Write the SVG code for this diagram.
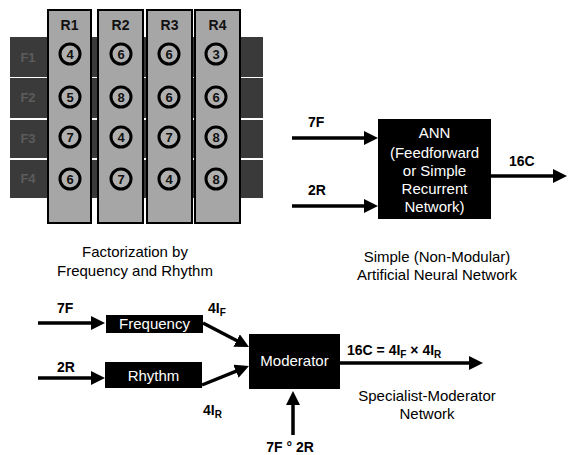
<svg xmlns="http://www.w3.org/2000/svg" width="568" height="455" viewBox="0 0 568 455">
<style>
.row{fill:#3a3a3a}
.col{fill:#a6a6a6;stroke:#000;stroke-width:2}
.cir{fill:#b0b0b0;stroke:#000;stroke-width:3}
.num{font-family:"Liberation Sans",Arial,sans-serif;font-weight:bold;font-size:13px;fill:#111;text-anchor:middle}
.rl{font-family:"Liberation Sans",Arial,sans-serif;font-weight:bold;font-size:14px;fill:#111;text-anchor:middle}
.fl{font-family:"Liberation Sans",Arial,sans-serif;font-weight:bold;font-size:13px;fill:#5c5c5c;text-anchor:middle}
.box{fill:#000}
.bt{font-family:"Liberation Sans",Arial,sans-serif;font-size:15px;fill:#fff;text-anchor:middle}
.lb{font-family:"Liberation Sans",Arial,sans-serif;font-weight:bold;font-size:14px;fill:#000}
.cap{font-family:"Liberation Sans",Arial,sans-serif;font-size:15px;fill:#000;text-anchor:middle}
.arr{stroke:#000;stroke-width:3.5;fill:none;marker-end:url(#ah)}
</style>
<defs>
<marker id="ah" markerUnits="userSpaceOnUse" markerWidth="14" markerHeight="14" refX="1" refY="7" orient="auto">
<path d="M0,0 L14,7 L0,14 z" fill="#000"/>
</marker>
</defs>

<g id="factorization">
<rect class="row" x="10" y="37" width="253" height="40"/>
<rect class="row" x="10" y="78" width="253" height="40"/>
<rect class="row" x="10" y="120" width="253" height="38"/>
<rect class="row" x="10" y="160" width="253" height="38"/>
<text class="fl" x="28" y="62">F1</text>
<text class="fl" x="28" y="102">F2</text>
<text class="fl" x="28" y="143">F3</text>
<text class="fl" x="28" y="183">F4</text>
<g id="col-R1">
<rect class="col" x="48" y="10" width="43" height="213"/>
<text class="rl" x="69.5" y="30">R1</text>
<circle class="cir" cx="70" cy="54" r="10"/><text class="num" x="70" y="58.5">4</text>
<circle class="cir" cx="70" cy="97" r="10"/><text class="num" x="70" y="101.5">5</text>
<circle class="cir" cx="70" cy="137" r="10"/><text class="num" x="70" y="141.5">7</text>
<circle class="cir" cx="70" cy="179" r="10"/><text class="num" x="70" y="183.5">6</text>
</g>
<g id="col-R2">
<rect class="col" x="98" y="10" width="45" height="213"/>
<text class="rl" x="120.5" y="30">R2</text>
<circle class="cir" cx="121" cy="54" r="10"/><text class="num" x="121" y="58.5">6</text>
<circle class="cir" cx="121" cy="97" r="10"/><text class="num" x="121" y="101.5">8</text>
<circle class="cir" cx="121" cy="137" r="10"/><text class="num" x="121" y="141.5">4</text>
<circle class="cir" cx="121" cy="179" r="10"/><text class="num" x="121" y="183.5">7</text>
</g>
<g id="col-R3">
<rect class="col" x="147" y="10" width="45" height="213"/>
<text class="rl" x="169.5" y="30">R3</text>
<circle class="cir" cx="169" cy="54" r="10"/><text class="num" x="169" y="58.5">6</text>
<circle class="cir" cx="169" cy="97" r="10"/><text class="num" x="169" y="101.5">6</text>
<circle class="cir" cx="169" cy="137" r="10"/><text class="num" x="169" y="141.5">7</text>
<circle class="cir" cx="169" cy="179" r="10"/><text class="num" x="169" y="183.5">4</text>
</g>
<g id="col-R4">
<rect class="col" x="195" y="10" width="45" height="213"/>
<text class="rl" x="217.5" y="30">R4</text>
<circle class="cir" cx="216" cy="54" r="10"/><text class="num" x="216" y="58.5">3</text>
<circle class="cir" cx="216" cy="97" r="10"/><text class="num" x="216" y="101.5">6</text>
<circle class="cir" cx="216" cy="137" r="10"/><text class="num" x="216" y="141.5">8</text>
<circle class="cir" cx="216" cy="179" r="10"/><text class="num" x="216" y="183.5">8</text>
</g>
<text class="cap" x="135" y="257">Factorization by</text>
<text class="cap" x="135" y="276">Frequency and Rhythm</text>
</g>

<g id="ann">
<rect class="box" x="378" y="119" width="113" height="100"/>
<text class="bt" x="434.5" y="138">ANN</text>
<text class="bt" x="434.5" y="158">(Feedforward</text>
<text class="bt" x="434.5" y="176">or Simple</text>
<text class="bt" x="434.5" y="194">Recurrent</text>
<text class="bt" x="434.5" y="212">Network)</text>
<text class="cap" x="437" y="262" font-size="16">Simple (Non-Modular)</text>
<text class="cap" x="437" y="280" font-size="16">Artificial Neural Network</text>
</g>

<g id="frequency">
<rect class="box" x="106" y="315" width="97" height="18"/>
<text class="bt" x="154.5" y="329">Frequency</text>
</g>
<g id="rhythm">
<rect class="box" x="105" y="362" width="97" height="26"/>
<text class="bt" x="153.5" y="381">Rhythm</text>
</g>
<g id="moderator">
<rect class="box" x="249" y="334" width="91" height="55"/>
<text class="bt" x="294.5" y="366">Moderator</text>
</g>

<g id="connectors">
<line class="arr" x1="292" y1="138" x2="365" y2="138"/>
<line class="arr" x1="292" y1="206" x2="365" y2="206"/>
<line class="arr" x1="491" y1="176" x2="554" y2="176"/>
<line class="arr" x1="38" y1="323" x2="92" y2="323"/>
<line class="arr" x1="38" y1="378" x2="92" y2="378"/>
<line class="arr" x1="203" y1="323" x2="237.5" y2="341"/>
<line class="arr" x1="202" y1="385" x2="236.9" y2="370.9"/>
<line class="arr" x1="340" y1="363" x2="470" y2="363"/>
<line class="arr" x1="293" y1="435" x2="293" y2="404"/>
</g>

<g id="labels">
<text class="lb" x="308" y="127">7F</text>
<text class="lb" x="308" y="195">2R</text>
<text class="lb" x="509" y="166">16C</text>
<text class="lb" x="57" y="313">7F</text>
<text class="lb" x="57" y="372">2R</text>
<text class="lb" x="208" y="313">4I<tspan font-size="10" dy="3">F</tspan></text>
<text class="lb" x="203" y="415">4I<tspan font-size="10" dy="3">R</tspan></text>
<text class="lb" x="347" y="355">16C = 4I<tspan font-size="10" dy="3">F</tspan><tspan dy="-3">  × 4I</tspan><tspan font-size="10" dy="3">R</tspan></text>
<text class="cap" x="427" y="401" font-size="14.5">Specialist-Moderator</text>
<text class="cap" x="427" y="419" font-size="14.5">Network</text>
<text class="lb" x="290" y="452" text-anchor="middle">7F ° 2R</text>
</g>
</svg>
